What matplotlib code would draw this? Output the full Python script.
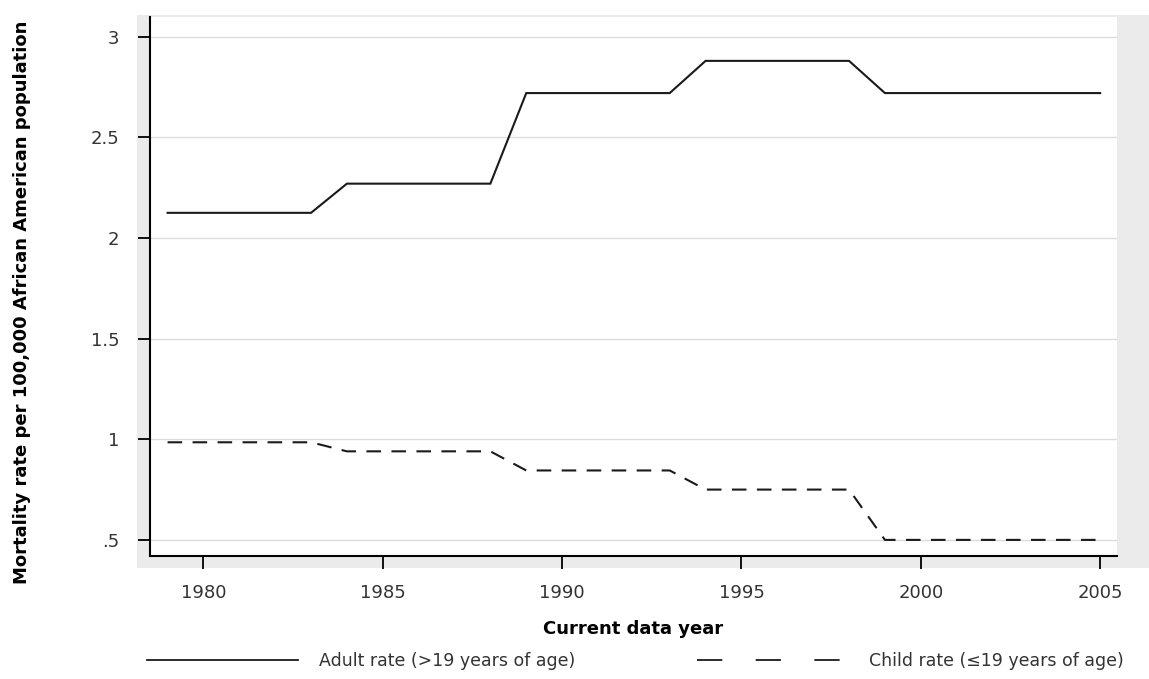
import matplotlib.pyplot as plt
import numpy as np
from matplotlib.patches import Rectangle
from matplotlib.lines import Line2D

# Данные
years = np.arange(1979, 2006)
adult_rate = [2.125] * 5 + [2.27] * 5 + [2.72] * 5 + [2.88] * 5 + [2.72] * 7
child_rate = [0.985] * 5 + [0.94] * 5 + [0.845] * 5 + [0.75] * 5 + [0.50] * 7

y_ticks = [0.5, 1, 1.5, 2, 2.5, 3]
y_tick_labels = ['.5', '1', '1.5', '2', '2.5', '3']
x_ticks = [1980, 1985, 1990, 1995, 2000, 2005]

plt.rcParams['font.family'] = ['DejaVu Sans']

fig = plt.figure(figsize=(11.49, 6.79), dpi=100)
W, H = 1149, 679

# Серая подложка области графика
fig.patches.append(Rectangle((137 / W, 1 - 568 / H), (W - 137) / W, (568 - 15) / H,
                             transform=fig.transFigure, facecolor='#ebebeb',
                             edgecolor='none', zorder=-5))

ax = fig.add_axes([150 / W, 1 - 556 / H, (1117 - 150) / W, (556 - 17) / H])
ax.set_facecolor('white')

line_color = '#1a1a1a'
ax.plot(years, adult_rate, color=line_color, lw=1.5, solid_joinstyle='miter')
ax.plot(years, child_rate, color=line_color, lw=1.5, dashes=(7, 5))

ax.set_xlim(1978.51, 2005.47)
ax.set_ylim(0.42, 3.098)
ax.set_xticks(x_ticks)
ax.set_yticks(y_ticks)
ax.set_yticklabels(y_tick_labels)

ax.grid(axis='y', color='#dcdcdc', lw=1)
ax.set_axisbelow(True)

for s in ['top', 'right']:
    ax.spines[s].set_visible(False)
for s in ['left', 'bottom']:
    ax.spines[s].set_color('black')
    ax.spines[s].set_linewidth(1.5)

ax.tick_params(axis='x', length=9, width=1.3, pad=11, labelsize=13, labelcolor='#333333')
ax.tick_params(axis='y', length=9, width=1.3, pad=13, labelsize=13, labelcolor='#333333')

ax.set_xlabel('Current data year', fontsize=13, fontweight='bold', labelpad=13)
fig.text(22 / W, 1 - 302 / H, 'Mortality rate per 100,000 African American population',
         rotation=90, ha='center', va='center', fontsize=13, fontweight='bold')

# Легенда
handles = [Line2D([], [], color=line_color, lw=1.3),
           Line2D([], [], color=line_color, lw=1.3, dashes=(14, 18.5))]
labels = ['Adult rate (>19 years of age)', 'Child rate (≤19 years of age)']
fig.legend(handles, labels, loc='center', bbox_to_anchor=(0.553, 1 - 661 / H),
           ncol=2, frameon=False, fontsize=12.5, handlelength=8.7,
           handletextpad=1.2, columnspacing=7.0, labelcolor='#333333')

plt.savefig('out.png', dpi=100)
